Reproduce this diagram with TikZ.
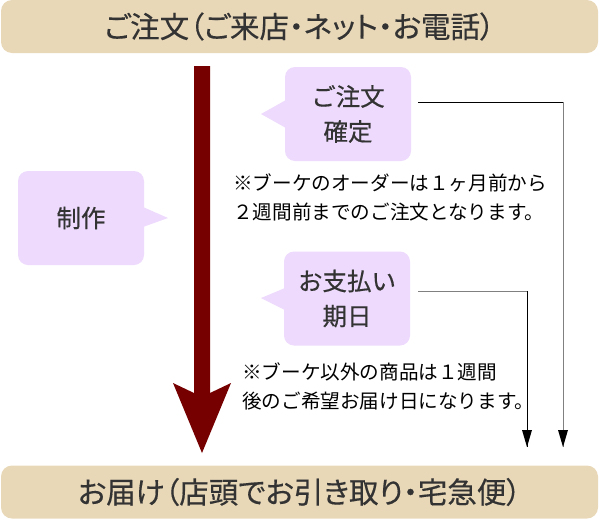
\documentclass[tikz,border=0pt]{standalone}
\usepackage{fontspec}
\setmainfont{Noto Sans CJK JP}
\newfontfamily\headfont[FakeBold=0.4]{Noto Sans CJK JP}
\newfontfamily\barfont[FakeBold=0.4,RawFeature=+palt]{Noto Sans CJK JP}
\usetikzlibrary{arrows.meta}
\definecolor{barfill}{HTML}{E8D8B8}
\definecolor{bubblefill}{HTML}{EDDAFC}
\definecolor{arrowred}{HTML}{760000}
\definecolor{headtext}{HTML}{333333}
\definecolor{lineGray}{HTML}{808080}
\tikzset{
  bar/.style={fill=barfill, draw=none, rounded corners=11pt, minimum width=597pt, minimum height=53pt, inner sep=0pt,
    text=headtext},
  bubble/.style={fill=bubblefill, draw=none, rounded corners=10pt, minimum width=126pt, minimum height=94pt, inner sep=0pt,
    text=headtext, align=center, font=\headfont\fontsize{24.5}{35}\selectfont},
  pointer/.style={fill=bubblefill, draw=none},
  note/.style={anchor=north west, align=left, inner sep=0pt, text=black, font=\fontsize{19.6}{29}\selectfont},
  conn/.style={line width=1pt}
}
\begin{document}
\begin{tikzpicture}[x=1pt,y=-1pt]
\useasboundingbox (0,0) rectangle (600,520);
% bars
\node[bar, font=\barfont\fontsize{29.5}{32}\selectfont] (top) at (299.5,26.5) {ご注文（ご来店・ネット・お電話）};
\node[bar, font=\barfont\fontsize{29.5}{32}\selectfont] (bottom) at (299.5,492) {お届け（店頭でお引き取り・宅急便）};
% main arrow
\fill[arrowred] (194,66) -- (210,66) -- (210,393) -- (231,383) -- (202,453) -- (173,383) -- (194,393) -- cycle;
% bubbles
\fill[pointer] (286,100) -- (261,114) -- (286,128) -- cycle;
\node[bubble] (order) at (348,114) {ご注文\\確定};
\fill[pointer] (143,207) -- (168,218) -- (143,227) -- cycle;
\node[bubble] (make) at (81,218) {制作};
\fill[pointer] (285,288) -- (261,298) -- (285,310) -- cycle;
\node[bubble] (pay) at (347,298.5) {お支払い\\期日};
% notes
\node[note] (note1) at (233,173) {※ブーケのオーダーは１ヶ月前から\\２週間前までのご注文となります。};
\node[note] (note2) at (242,362) {※ブーケ以外の商品は１週間\\後のご希望お届け日になります。};
% connectors
\coordinate (c1a) at (418,102);
\coordinate (c1b) at (563,102);
\coordinate (c1c) at (563,447);
\coordinate (c2a) at (418,291);
\coordinate (c2b) at (527,291);
\coordinate (c2c) at (527,447);
\draw[conn] (c1a) -- (c1b);
\draw[conn, lineGray] (c1b) -- (c1c);
\fill (c1c) -- ++(-5,-17) -- ++(10,0) -- cycle;
\draw[conn, lineGray] (c2a) -- (c2b);
\draw[conn] (c2b) -- (c2c);
\fill (c2c) -- ++(-5,-17) -- ++(10,0) -- cycle;
\end{tikzpicture}
\end{document}
